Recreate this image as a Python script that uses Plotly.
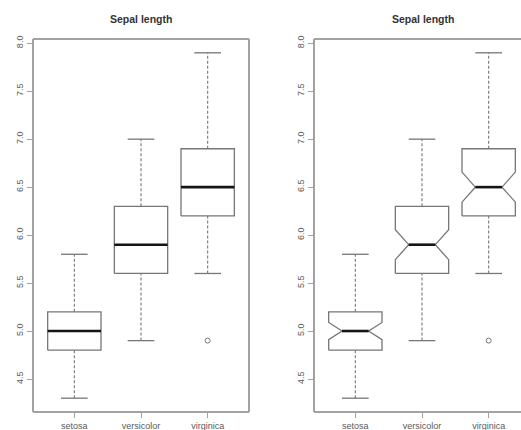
import math
import plotly.graph_objects as go
from plotly.subplots import make_subplots

species = ["setosa", "versicolor", "virginica"]
positions = [1, 2, 3]
lower_whisker = [4.3, 4.9, 5.6]
q1 = [4.8, 5.6, 6.2]
median = [5.0, 5.9, 6.5]
q3 = [5.2, 6.3, 6.9]
upper_whisker = [5.8, 7.0, 7.9]
n_obs = [50, 50, 50]
outlier_x = [3]
outlier_y = [4.9]
y_ticks = [4.5, 5.0, 5.5, 6.0, 6.5, 7.0, 7.5, 8.0]
title_text = "Sepal length"

W, H = 521, 430
BOX_HALF = 0.4
STAPLE_HALF = 0.2
NOTCH_IN = 0.2
BOX_COL = "#767676"
FRAME_COL = "#a2a2a2"
TEXT_COL = "#5a5a5a"
FONT = "Liberation Sans, Arial, sans-serif"

fig = make_subplots(rows=1, cols=2)

def add_panel(col, notched):
    for i, x in enumerate(positions):
        lo, a, m, b, hi = lower_whisker[i], q1[i], median[i], q3[i], upper_whisker[i]
        nh = 1.58 * (b - a) / math.sqrt(n_obs[i])
        if notched:
            xs = [x - BOX_HALF, x + BOX_HALF, x + BOX_HALF, x + NOTCH_IN, x + BOX_HALF,
                  x + BOX_HALF, x - BOX_HALF, x - BOX_HALF, x - NOTCH_IN, x - BOX_HALF, x - BOX_HALF]
            ys = [a, a, m - nh, m, m + nh, b, b, m + nh, m, m - nh, a]
            mx = [x - NOTCH_IN, x + NOTCH_IN]
        else:
            xs = [x - BOX_HALF, x + BOX_HALF, x + BOX_HALF, x - BOX_HALF, x - BOX_HALF]
            ys = [a, a, b, b, a]
            mx = [x - BOX_HALF, x + BOX_HALF]
        # whiskers (dashed)
        fig.add_trace(go.Scatter(x=[x, x, None, x, x], y=[lo, a, None, b, hi], mode="lines",
                                 line=dict(color=BOX_COL, width=1.1, dash="3px,2px"),
                                 hoverinfo="skip", showlegend=False), row=1, col=col)
        # staples
        fig.add_trace(go.Scatter(x=[x - STAPLE_HALF, x + STAPLE_HALF, None, x - STAPLE_HALF, x + STAPLE_HALF],
                                 y=[lo, lo, None, hi, hi], mode="lines",
                                 line=dict(color=BOX_COL, width=1.3),
                                 hoverinfo="skip", showlegend=False), row=1, col=col)
        # box
        fig.add_trace(go.Scatter(x=xs, y=ys, mode="lines",
                                 line=dict(color=BOX_COL, width=1.3),
                                 hoverinfo="skip", showlegend=False), row=1, col=col)
        # median
        fig.add_trace(go.Scatter(x=mx, y=[m, m], mode="lines",
                                 line=dict(color="#151515", width=2.6),
                                 hoverinfo="skip", showlegend=False), row=1, col=col)
    fig.add_trace(go.Scatter(x=outlier_x, y=outlier_y, mode="markers",
                             marker=dict(symbol="circle-open", size=5, color=BOX_COL, line=dict(width=1)),
                             hoverinfo="skip", showlegend=False), row=1, col=col)

add_panel(1, False)
add_panel(2, True)

ymin, ymax = 4.3, 7.9
ypad = (ymax - ymin) * 0.04
x_unit = 216 / 3.24
y_dom = [(H - 412) / H, (H - 39) / H]
x1_dom = [33 / W, 249 / W]
x2_dom = [314 / W, 1.0]
x2_max = 0.38 + (W - 314) / x_unit

common_x = dict(tickmode="array", tickvals=positions, ticktext=species, ticks="outside",
                ticklen=5, tickcolor=FRAME_COL, tickwidth=1, showgrid=False, zeroline=False,
                showline=False, automargin=False,
                tickfont=dict(family=FONT, size=9, color=TEXT_COL))
common_y = dict(tickmode="array", tickvals=y_ticks, ticktext=[f"{v:.1f}" for v in y_ticks],
                ticks="outside", ticklen=5, tickcolor=FRAME_COL, tickwidth=1, showgrid=False,
                zeroline=False, showline=False, automargin=False, tickangle=-90,
                range=[ymin - ypad, ymax + ypad],
                tickfont=dict(family=FONT, size=9, color=TEXT_COL))

fig.update_xaxes(domain=x1_dom, range=[0.38, 3.62], row=1, col=1, **common_x)
fig.update_xaxes(domain=x2_dom, range=[0.38, x2_max], row=1, col=2, **common_x)
fig.update_yaxes(domain=y_dom, row=1, col=1, **common_y)
fig.update_yaxes(domain=y_dom, row=1, col=2, **common_y)

# frames
for xr, yr, full in [("x domain", "y domain", True), ("x2 domain", "y2 domain", False)]:
    fig.add_shape(type="line", xref=xr, yref=yr, x0=0, x1=1, y0=1, y1=1, line=dict(color=FRAME_COL, width=2))
    fig.add_shape(type="line", xref=xr, yref=yr, x0=0, x1=1, y0=0, y1=0, line=dict(color=FRAME_COL, width=2))
    fig.add_shape(type="line", xref=xr, yref=yr, x0=0, x1=0, y0=0, y1=1, line=dict(color=FRAME_COL, width=2))
    if full:
        fig.add_shape(type="line", xref=xr, yref=yr, x0=1, x1=1, y0=0, y1=1, line=dict(color=FRAME_COL, width=2))

for cx in [141, 423]:
    fig.add_annotation(x=cx / W, y=1 - 19 / H, xref="paper", yref="paper", text=f"<b>{title_text}</b>",
                       showarrow=False, xanchor="center", yanchor="middle",
                       font=dict(family=FONT, size=10.5, color="#333333"))

fig.update_layout(width=W, height=H, margin=dict(l=0, r=0, t=0, b=0),
                  paper_bgcolor="white", plot_bgcolor="white", showlegend=False)

fig.write_html("out.html")
